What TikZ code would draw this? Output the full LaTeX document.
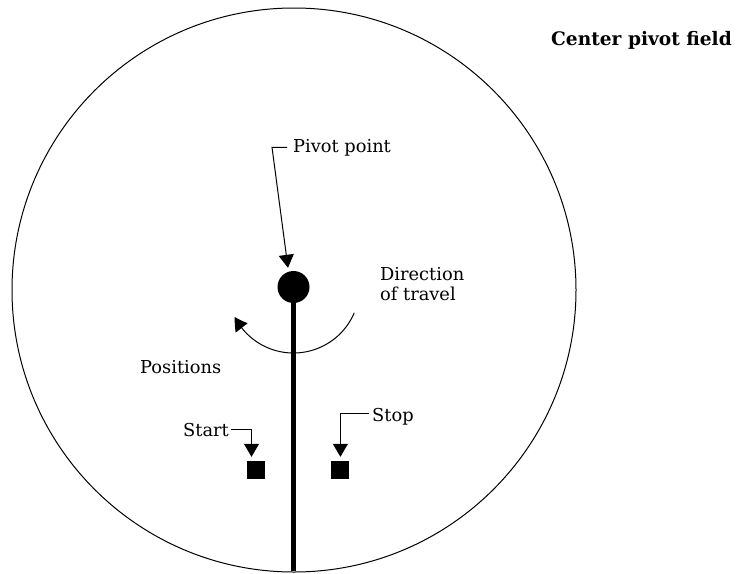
\documentclass[tikz,border=0pt]{standalone}
\usepackage{fontspec}
\setmainfont{DejaVu Serif}
\usetikzlibrary{arrows.meta,bending,positioning}
\begin{document}
\begin{tikzpicture}[x=1pt, y=-1pt, >={Triangle[width=15pt,length=13pt]},
        every node/.style={font=\fontsize{17.8}{20}\selectfont, inner sep=0pt}]
        \useasboundingbox (0,0) rectangle (736,573);
        % 田地和枢轴
        \node[draw, circle, line width=1pt, minimum size=564pt] (field) at (294,290) {};
        \node[fill, circle, minimum size=32pt] (pivot) at (293.5,287) {};
        \coordinate (rim) at (293.5,571);
        \draw[line width=4.5pt] (pivot) -- (rim);

        % 位置
        \node[fill, minimum size=18pt] (start) at (256,470) {};
        \node[fill, minimum size=18pt, right=66pt of start] (stop) {};

        % 文字
        \node[anchor=base east, font=\bfseries\fontsize{18.6}{20}\selectfont] (title) at (732,45) {Center pivot field};
        \node[anchor=base west] (pivotlbl) at (293,152) {Pivot point};
        \node[anchor=base west, align=left] (travel) at (380,300) {Direction\\of travel};
        \node[anchor=base west] (positions) at (140,373) {Positions};
        \node[anchor=base west] (startlbl) at (183,436) {Start};
        \node[anchor=base west] (stoplbl) at (372,421) {Stop};

        % 引线和箭头
        \draw[->, line width=1pt] ([xshift=-6pt]pivotlbl.west) -- ++(-15,0) -- ([xshift=-5.5pt,yshift=3pt]pivot.north);
        \draw[-{Triangle[width=15pt,length=13pt,bend]}, line width=1pt] ([shift={(23:66)}]pivot.center) arc[start angle=23, end angle=153, radius=66];
        \draw[->, line width=1pt] ([xshift=2pt]startlbl.east) -| ([xshift=-4.5pt,yshift=4pt]start.north);
        \draw[->, line width=1pt] ([xshift=-3pt,yshift=3pt]stoplbl.west) -| ([yshift=4pt]stop.north);
    \end{tikzpicture}
\end{document}
